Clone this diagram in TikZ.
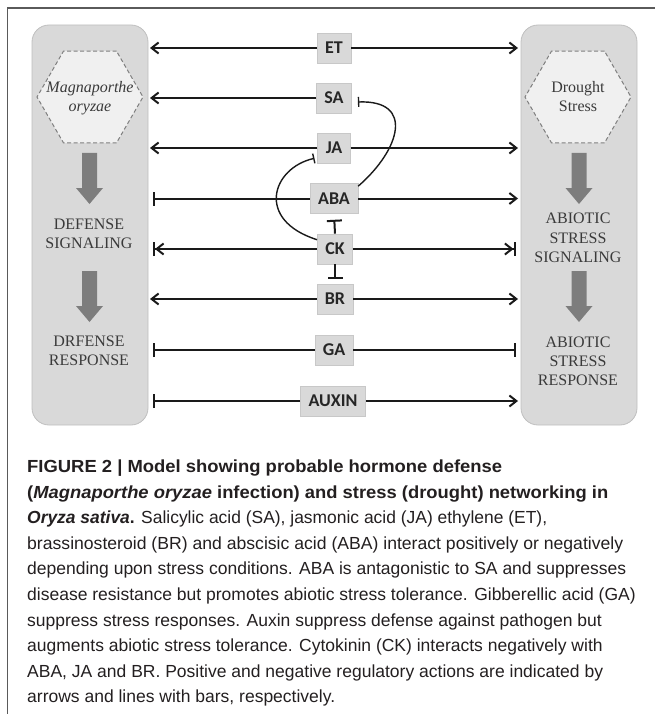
\documentclass[tikz,border=0pt]{standalone}
\usepackage{graphicx}
\usepackage{fontspec}
\setmainfont{Liberation Serif}
\newfontfamily\capfont{Liberation Sans}
\newfontfamily\hfont{Carlito}
\usetikzlibrary{arrows.meta,shapes.geometric,calc}
\definecolor{boxgray}{HTML}{D9D9D9}
\definecolor{sideborder}{HTML}{BFBFBF}
\definecolor{hbord}{HTML}{C8C8C8}
\definecolor{hexfill}{HTML}{F0F0F0}
\definecolor{hexdraw}{HTML}{7F7F7F}
\definecolor{arrowgray}{HTML}{7D7D7D}
\definecolor{linecol}{HTML}{1A1A1A}
\definecolor{textgray}{HTML}{3A3A3A}
\definecolor{framecol}{HTML}{5A5A5A}
\definecolor{capcol}{HTML}{231F20}
\begin{document}
\begin{tikzpicture}[x=1pt,y=-1pt,
  sidebox/.style={draw=sideborder, fill=boxgray, rounded corners=17pt, minimum width=116pt, minimum height=400pt, line width=0.8pt},
  hexa/.style={regular polygon, regular polygon sides=6, minimum size=106pt, draw=hexdraw, dash pattern=on 4pt off 2.5pt, fill=hexfill, line width=1pt, inner sep=0pt},
  sidetext/.style={font=\fontsize{16}{18.7}\selectfont, text=textgray, align=center, inner sep=0pt},
  hormone/.style={fill=boxgray, draw=hbord, line width=0.6pt, font=\hfont\bfseries\fontsize{18}{20}\selectfont, text=black!85, inner xsep=8pt, inner ysep=0pt, minimum height=30pt},
  conn/.style={draw=linecol, line width=2pt},
  curv/.style={draw=linecol, line width=1.4pt},
  tipA/.tip={Straight Barb[length=7pt,width=11pt]},
  tipB/.tip={Bar[width=14pt]},
  captxt/.style={anchor=west, inner sep=0pt, text=capcol, font=\capfont\fontsize{17.5}{22}\selectfont}
]
\useasboundingbox (0,0) rectangle (655,714);
% frame
\draw[framecol, line width=1.5pt] (7.5,714) -- (7.5,8) -- (655,8);
% side boxes
\node[sidebox] (L) at (90,225) {};
\node[sidebox] (R) at (579,225) {};
\node[hexa] (hexL) at (90,97) {};
\node[hexa] (hexR) at (578,97) {};
\node[sidetext, font=\itshape\fontsize{16}{19}\selectfont] (mo) at (90,98.5) {Magnaporthe\\oryzae};
\node[sidetext, font=\fontsize{16}{19}\selectfont] (ds) at (578,97) {Drought\\Stress};
% gray arrows
\foreach \cx/\ty in {89.5/153, 89.5/271, 579/153, 579/271}{
  \fill[arrowgray] (\cx-7.5,\ty) -- (\cx+7.5,\ty) -- (\cx+7.5,\ty+35) -- (\cx+13.5,\ty+35) -- (\cx,\ty+51) -- (\cx-13.5,\ty+35) -- (\cx-7.5,\ty+35) -- cycle;
}
\node[sidetext] (defsig) at (89,234) {DEFENSE\\SIGNALING};
\node[sidetext] (defres) at (89,351) {DRFENSE\\RESPONSE};
\node[sidetext, font=\fontsize{16}{19.5}\selectfont] (abisig) at (578,238) {ABIOTIC\\STRESS\\SIGNALING};
\node[sidetext, font=\fontsize{16}{19}\selectfont] (abires) at (578,361) {ABIOTIC\\STRESS\\RESPONSE};
% hormones
\node[hormone] (ET) at (334,48) {ET};
\node[hormone] (SA) at (334,98) {SA};
\node[hormone] (JA) at (334,148) {JA};
\node[hormone] (ABA) at (334,198.5) {ABA};
\node[hormone] (CK) at (335,249) {CK};
\node[hormone] (BR) at (335,299) {BR};
\node[hormone] (GA) at (334,350) {GA};
\node[hormone] (AUX) at (333,401) {AUXIN};
% end coordinates
\coordinate (La) at (150,0);
\coordinate (Lb) at (153,0);
\coordinate (Ra) at (518,0);
\coordinate (Rb) at (515.5,0);
% horizontal connectors
\draw[conn,-{tipA}] (ET.west) -- (ET.west -| La);
\draw[conn,-{tipA}] (ET.east) -- (ET.east -| Ra);
\draw[conn,-{tipA}] (SA.west) -- (SA.west -| La);
\draw[conn,-{tipA}] (JA.west) -- (JA.west -| La);
\draw[conn,-{tipA}] (JA.east) -- (JA.east -| Ra);
\draw[conn,-{tipB}] (ABA.west) -- (ABA.west -| Lb);
\draw[conn,-{tipA}] (ABA.east) -- (ABA.east -| Ra);
\draw[conn,-{tipA[]tipB[]}] (CK.west) -- (CK.west -| Lb);
\draw[conn,-{tipA[]tipB[]}] (CK.east) -- (CK.east -| Rb);
\draw[conn,-{tipA}] (BR.west) -- (BR.west -| La);
\draw[conn,-{tipA}] (BR.east) -- (BR.east -| Ra);
\draw[conn,-{tipB}] (GA.west) -- (GA.west -| Lb);
\draw[conn,-{tipB}] (GA.east) -- (GA.east -| Rb);
\draw[conn,-{tipB}] (AUX.west) -- (AUX.west -| Lb);
\draw[conn,-{tipA}] (AUX.east) -- (AUX.east -| Ra);
% vertical inhibitions
\draw[conn,-{Bar[width=15pt]}, shorten >=6pt] (CK.north) -- (ABA.south);
\draw[conn,-{Bar[width=15pt]}, shorten >=5pt] (CK.south) -- (BR.north);
% curves
\draw[curv,-{Bar[width=10pt]}] ([yshift=-3pt]ABA.north east) .. controls (400,150) and (415,100) .. ([xshift=6pt,yshift=-4pt]SA.east);
\draw[curv,-{Bar[width=10pt]}] ([yshift=-6pt]CK.north west) .. controls (255,220) and (272,168) .. ([xshift=-3pt,yshift=5pt]JA.south west);
% caption
\node[captxt] (c1) at (27,468) {\resizebox{475pt}{\height}{\bfseries FIGURE 2 | Model showing probable hormone defense}};
\node[captxt] (c2) at (27,493.6) {\resizebox{581pt}{\height}{\bfseries (\textit{Magnaporthe oryzae}\/ infection) and stress (drought) networking in}};
\node[captxt] (c3) at (27,519.2) {\resizebox{520pt}{\height}{\textbf{\textit{Oryza sativa}.} Salicylic acid (SA), jasmonic acid (JA) ethylene (ET),}};
\node[captxt] (c4) at (27,544.8) {\resizebox{596pt}{\height}{brassinosteroid (BR) and abscisic acid (ABA) interact positively or negatively}};
\node[captxt] (c5) at (27,570.4) {depending upon stress conditions. ABA is antagonistic to SA and suppresses};
\node[captxt] (c6) at (27,596) {disease resistance but promotes abiotic stress tolerance. Gibberellic acid (GA)};
\node[captxt] (c7) at (27,621.6) {suppress stress responses. Auxin suppress defense against pathogen but};
\node[captxt] (c8) at (27,647.2) {augments abiotic stress tolerance. Cytokinin (CK) interacts negatively with};
\node[captxt] (c9) at (27,672.8) {ABA, JA and BR. Positive and negative regulatory actions are indicated by};
\node[captxt] (c10) at (27,698.4) {arrows and lines with bars, respectively.};
\end{tikzpicture}
\end{document}
